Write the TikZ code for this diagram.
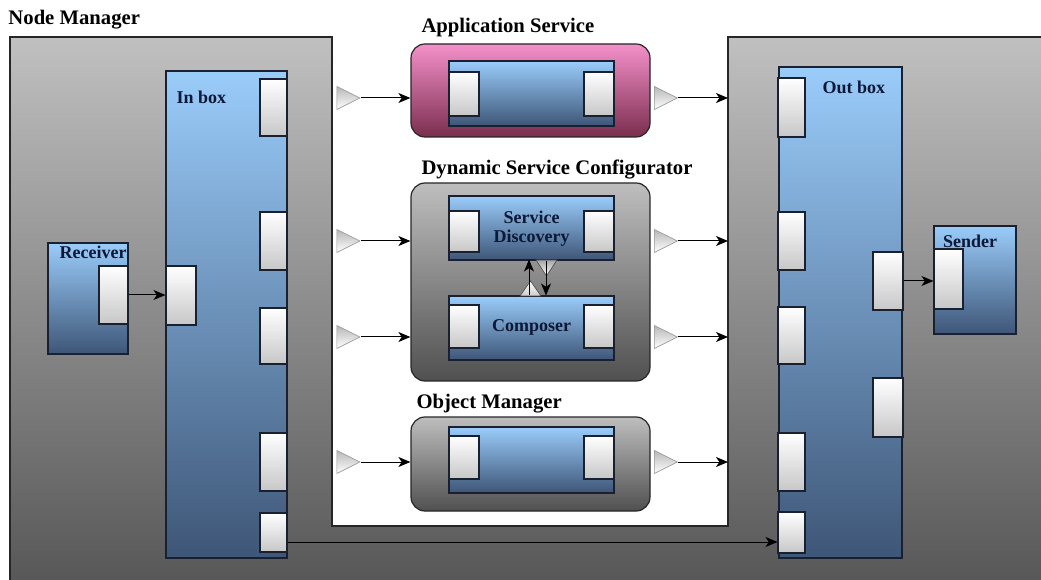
\documentclass[tikz,border=0pt]{standalone}
\usepackage{fontspec}
\setmainfont{Liberation Serif}
\usepackage{xcolor}
\usetikzlibrary{shapes.geometric}
\usetikzlibrary{calc}
\usetikzlibrary{arrows.meta}

\definecolor{nmtop}{HTML}{C0C0C0}
\definecolor{nmbot}{HTML}{565656}
\definecolor{bluetop}{HTML}{9ACCFA}
\definecolor{bluebot}{HTML}{3E5677}
\definecolor{pinktop}{HTML}{F490CA}
\definecolor{pinkbot}{HTML}{7A2E4E}
\definecolor{svtop}{HTML}{BEBEBE}
\definecolor{svbot}{HTML}{505050}
\definecolor{inktext}{HTML}{0C1838}
\definecolor{edge}{HTML}{1A2030}

\def\px{0.75pt}

\tikzset{
  bluebox/.style={draw=edge, line width=0.8pt, top color=bluetop, bottom color=bluebot, inner sep=0pt},
  port/.style={draw=edge, line width=0.8pt, top color=white, bottom color=black!22, inner sep=0pt, minimum width=30*\px},
  outport/.style={isosceles triangle, isosceles triangle stretches, draw=black!40, line width=0.5pt,
    top color=black!28, bottom color=white, inner sep=0pt, minimum width=23*\px, minimum height=23*\px},
  service/.style={draw=black!85, line width=0.9pt, rounded corners=14*\px, inner sep=0pt, minimum width=239*\px},
  title/.style={font=\fontsize{15.5}{18}\selectfont\bfseries, anchor=west, inner sep=0pt},
  tag/.style={font=\fontsize{13.5}{14.5}\selectfont\bfseries, text=inktext, inner sep=0pt, align=center},
}

\begin{document}
\begin{tikzpicture}[x=\px, y=-\px, >={Stealth[length=9pt,width=7.5pt,inset=2.5pt]}, line width=0.75pt]
\useasboundingbox (0,0) rectangle (1041,580);
\clip (0,0) rectangle (1041,580);

%Node Manager
\shadedraw[top color=nmtop, bottom color=nmbot, draw=black!85, line width=0.8pt]
  (10,37) -- (332,37) -- (332,526) -- (728,526) -- (728,37) -- (1050,37) -- (1050,590) -- (10,590) -- cycle;
\node[title] (nmlabel) at (8,20) {Node Manager};
\coordinate (nmout) at (728,0);

%Inbox
\node[bluebox, minimum width=121*\px, minimum height=487*\px] (inbox) at (226.5,314.5) {};
\node[tag, anchor=west] (inlabel) at (176,97) {In box};
\foreach \y/\h [count=\i] in {107.5/57, 241/58, 336/56, 462/58, 532.5/39}
  \node[port, minimum width=27*\px, minimum height=\h*\px] (ip\i) at (273.5,\y) {};
\node[port, minimum height=59*\px] (ipr) at (181,295.5) {};

%Receiver
\node[bluebox, minimum width=80*\px, minimum height=111*\px] (receiver) at (88,298.5) {};
\node[tag, anchor=north east] (reclabel) at (127,246) {Receiver};
\node[port, minimum width=29*\px, minimum height=58*\px] (rport) at (113.5,295) {};
\draw[->] (rport.east) -- (rport.east -| ipr.west);

%Application Service
\node[service, top color=pinktop, bottom color=pinkbot, minimum height=93*\px] (appsvc) at (530.5,90.5) {};
\node[title] (applabel) at (421,28) {Application Service};
\node[bluebox, minimum width=165*\px, minimum height=65*\px] (appcore) at (531.5,93.5) {};
\node[port, minimum height=44*\px] (appin) at (464,94) {};
\node[port, minimum height=44*\px] (appout) at (599,94) {};

%Dynamic Service Configurator
\node[service, top color=svtop, bottom color=svbot, minimum height=198*\px] (dsc) at (530.5,282) {};
\node[title] (dsclabel) at (421,170) {Dynamic Service Configurator};
\node[bluebox, minimum width=165*\px, minimum height=64*\px] (disc) at (531.5,228) {};
\node[port, minimum height=41*\px] (discin) at (464,231.5) {};
\node[port, minimum height=41*\px] (discout) at (599,231.5) {};
\node[tag] (disclabel) at (531.5,229) {Service\\Discovery};
\node[bluebox, minimum width=165*\px, minimum height=64*\px] (comp) at (531.5,328) {};
\node[port, minimum height=43*\px] (compin) at (464,326.5) {};
\node[port, minimum height=43*\px] (compout) at (599,326.5) {};
\node[tag] (complabel) at (531.5,327) {Composer};
\shadedraw[top color=black!35, bottom color=white, draw=black!70, line width=0.5pt]
  (536,260) -- (557,260) -- (546.5,276) -- cycle;
\shadedraw[top color=white, bottom color=black!20, draw=black!70, line width=0.5pt]
  (520,296) -- (541,296) -- (530.5,281) -- cycle;
\draw[->] ($(comp.north)+(-2.5,0)$) -- ($(disc.south)+(-2.5,-1)$);
\draw[->] ($(disc.south)+(14.5,0)$) -- ($(comp.north)+(14.5,0)$);

%Object Manager
\node[service, top color=svtop, bottom color=svbot, minimum height=94*\px] (objmgr) at (530.5,464) {};
\node[title] (objlabel) at (416,404) {Object Manager};
\node[bluebox, minimum width=165*\px, minimum height=66*\px] (objcore) at (531.5,460) {};
\node[port, minimum height=43*\px] (objin) at (464,457.5) {};
\node[port, minimum height=43*\px] (objout) at (599,457.5) {};

%ports of the services
\foreach \y/\s [count=\i] in {98/appsvc, 241/dsc, 337/dsc, 462/objmgr} {
  \node[outport] (tin\i) at (344,\y) {};
  \node[outport] (tout\i) at (661.5,\y) {};
  \draw[->] (tin\i.apex) -- (tin\i.apex -| \s.west);
  \draw[->] (tout\i.apex) -- (tout\i.apex -| nmout);
}

%Outbox
\node[bluebox, minimum width=123*\px, minimum height=491*\px] (outbox) at (840.5,312.5) {};
\node[tag, anchor=west] (outlabel) at (822,87) {Out box};
\foreach \y/\h [count=\i] in {107.5/59, 241/58, 335.5/57, 462/58, 532.5/41}
  \node[port, minimum width=27*\px, minimum height=\h*\px] (op\i) at (791.5,\y) {};
\node[port, minimum height=58*\px] (opa) at (888,281) {};
\node[port, minimum height=59*\px] (opb) at (888,407.5) {};

%Sender
\node[bluebox, minimum width=82*\px, minimum height=108*\px] (sender) at (975,280) {};
\node[tag] (sendlabel) at (970,241) {Sender};
\node[port, minimum width=29*\px, minimum height=60*\px] (sport) at (948.5,279) {};
\draw[->] (opa.east) -- (opa.east -| sport.west);

\draw[->] ($(ip5.east)+(0,9.5)$) -- ($(op5.west)+(0,9.5)$);
\end{tikzpicture}
\end{document}
